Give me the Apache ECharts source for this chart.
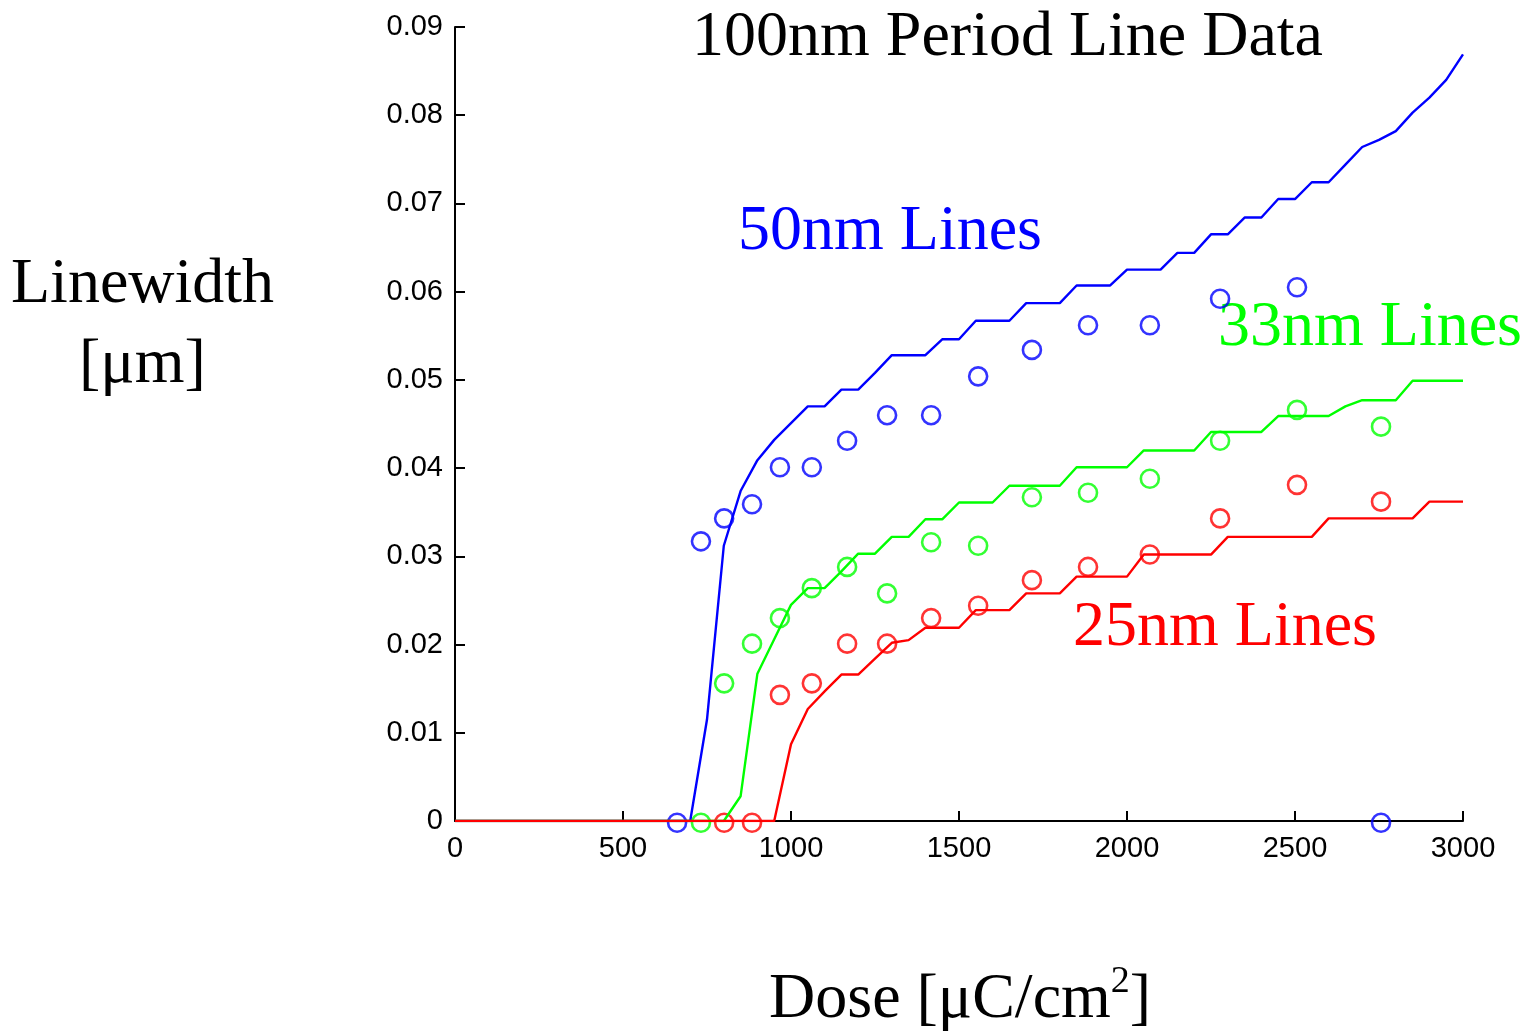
<!DOCTYPE html>
<html>
<head>
<meta charset="utf-8">
<script src="https://cdn.jsdelivr.net/npm/echarts@6/dist/echarts.min.js"></script>
<style>
  html, body { margin: 0; padding: 0; background: #ffffff; }
  #chart { width: 1540px; height: 1036px; }
</style>
</head>
<body>
<div id="chart"></div>
<script>
// Simulated linewidth curves, sampled every 50 µC/cm²
const simDose = [
  0, 50, 100, 150, 200, 250, 300, 350, 400, 450, 500, 550, 600, 650, 700,
  750, 800, 850, 900, 950, 1000, 1050, 1100, 1150, 1200, 1250, 1300, 1350, 1400, 1450,
  1500, 1550, 1600, 1650, 1700, 1750, 1800, 1850, 1900, 1950, 2000, 2050, 2100, 2150,
  2200, 2250, 2300, 2350, 2400, 2450, 2500, 2550, 2600, 2650, 2700, 2750, 2800, 2850,
  2900, 2950, 3000
];
const sim50 = [
  0, 0, 0, 0, 0, 0, 0, 0, 0, 0, 0, 0, 0, 0, 0,
  0.0115, 0.0312, 0.0374, 0.0409, 0.0432, 0.0451, 0.0470, 0.0470, 0.0489, 0.0489,
  0.0508, 0.0528, 0.0528, 0.0528, 0.0546, 0.0546, 0.0567, 0.0567, 0.0567, 0.0587,
  0.0587, 0.0587, 0.0607, 0.0607, 0.0607, 0.0625, 0.0625, 0.0625, 0.0644, 0.0644,
  0.0665, 0.0665, 0.0684, 0.0684, 0.0705, 0.0705, 0.0724, 0.0724, 0.0744, 0.0764,
  0.0772, 0.0782, 0.0803, 0.0820, 0.0840, 0.0869
];
const sim33 = [
  0, 0, 0, 0, 0, 0, 0, 0, 0, 0, 0, 0, 0, 0, 0, 0, 0,
  0.0028, 0.0167, 0.0206, 0.0245, 0.0264, 0.0264, 0.0283, 0.0303, 0.0303,
  0.0322, 0.0322, 0.0342, 0.0342, 0.0361, 0.0361, 0.0361, 0.0380, 0.0380,
  0.0380, 0.0380, 0.0401, 0.0401, 0.0401, 0.0401, 0.0420, 0.0420, 0.0420,
  0.0420, 0.0441, 0.0441, 0.0441, 0.0441, 0.0459, 0.0459, 0.0459, 0.0459,
  0.0470, 0.0477, 0.0477, 0.0477, 0.0499, 0.0499, 0.0499, 0.0499
];
const sim25 = [
  0, 0, 0, 0, 0, 0, 0, 0, 0, 0, 0, 0, 0, 0, 0, 0, 0, 0, 0, 0,
  0.0087, 0.0127, 0.0147, 0.0166, 0.0166, 0.0184, 0.0202, 0.0205, 0.0219,
  0.0219, 0.0219, 0.0239, 0.0239, 0.0239, 0.0258, 0.0258, 0.0258, 0.0277,
  0.0277, 0.0277, 0.0277, 0.0302, 0.0302, 0.0302, 0.0302, 0.0302, 0.0322,
  0.0322, 0.0322, 0.0322, 0.0322, 0.0322, 0.0343, 0.0343, 0.0343, 0.0343,
  0.0343, 0.0343, 0.0362, 0.0362, 0.0362
];

// Measured linewidths (null = not measured at that dose)
const measDose = [661, 732, 801, 884, 967, 1062, 1167, 1286, 1417, 1557, 1717, 1884, 2068, 2277, 2506, 2756];
const meas50 = [-0.0002, 0.0317, 0.0343, 0.0359, 0.0401, 0.0401, 0.0431, 0.0460, 0.0460, 0.0504, 0.0534, 0.0562, 0.0562, 0.0592, 0.0605, -0.0002];
const meas33 = [null, -0.0002, 0.0156, 0.0201, 0.0230, 0.0264, 0.0288, 0.0258, 0.0316, 0.0312, 0.0367, 0.0372, 0.0388, 0.0431, 0.0466, 0.0447];
const meas25 = [null, null, -0.0002, -0.0002, 0.0143, 0.0156, 0.0201, 0.0201, 0.0230, 0.0244, 0.0273, 0.0288, 0.0302, 0.0343, 0.0381, 0.0362];

const xTicks = [0, 500, 1000, 1500, 2000, 2500, 3000];
const yTicks = [0, 0.01, 0.02, 0.03, 0.04, 0.05, 0.06, 0.07, 0.08, 0.09];

const seriesNames = ['50nm Lines', '33nm Lines', '25nm Lines'];
const seriesColors = ['#0000ff', '#00ff00', '#ff0000'];

function pairs(xs, ys) {
  const out = [];
  for (let i = 0; i < xs.length; i++) {
    if (ys[i] !== null) out.push([xs[i], ys[i]]);
  }
  return out;
}

const serif = 'Liberation Serif, Times New Roman, serif';
const sans = 'Liberation Sans, Arial, Helvetica, sans-serif';

const simSets = [sim50, sim33, sim25];
const measSets = [meas50, meas33, meas25];

const series = [];
simSets.forEach((s, i) => {
  series.push({
    name: seriesNames[i] + ' (model)',
    type: 'line',
    data: pairs(simDose, s),
    showSymbol: false,
    symbol: 'none',
    lineStyle: { color: seriesColors[i], width: 2.4 },
    z: 3 + i,
    silent: true
  });
});
measSets.forEach((s, i) => {
  series.push({
    name: seriesNames[i],
    type: 'scatter',
    data: pairs(measDose, s),
    symbol: 'circle',
    symbolSize: 18,
    clip: false,
    itemStyle: { color: 'rgba(0,0,0,0)', borderColor: seriesColors[i], borderWidth: 2.6 },
    z: 2
  });
});

const chart = echarts.init(document.getElementById('chart'), null, { renderer: 'canvas' });
chart.setOption({
  animation: false,
  backgroundColor: '#ffffff',
  grid: { left: 455, right: 77, top: 27, bottom: 215, containLabel: false },
  xAxis: {
    type: 'value',
    min: xTicks[0],
    max: xTicks[xTicks.length - 1],
    interval: xTicks[1] - xTicks[0],
    axisLine: { show: true, onZero: false, lineStyle: { color: '#000', width: 2 } },
    axisTick: { show: true, inside: true, length: 10, lineStyle: { color: '#000', width: 2 } },
    axisLabel: {
      color: '#000', fontFamily: sans, fontSize: 29, margin: 13,
      formatter: v => String(Math.round(v))
    },
    splitLine: { show: false }
  },
  yAxis: {
    type: 'value',
    min: yTicks[0],
    max: yTicks[yTicks.length - 1],
    interval: 0.01,
    axisLine: { show: true, onZero: false, lineStyle: { color: '#000', width: 2 } },
    axisTick: { show: true, inside: true, length: 10, lineStyle: { color: '#000', width: 2 } },
    axisLabel: {
      color: '#000', fontFamily: sans, fontSize: 29, margin: 12,
      formatter: v => (Math.abs(v) < 1e-9 ? '0' : v.toFixed(2))
    },
    splitLine: { show: false }
  },
  series: series,
  graphic: [
    {
      type: 'text', left: 692, top: 6, silent: true,
      style: { text: '100nm Period Line Data', font: '64px ' + serif, fill: '#000' }
    },
    {
      type: 'text', left: 11, top: 253, silent: true,
      style: { text: 'Linewidth', font: '64px ' + serif, fill: '#000' }
    },
    {
      type: 'text', left: 79, top: 333, silent: true,
      style: { text: '[μm]', font: '64px ' + serif, fill: '#000' }
    },
    {
      type: 'text', left: 738, top: 200, silent: true,
      style: { text: seriesNames[0], font: '64px ' + serif, fill: seriesColors[0] }
    },
    {
      type: 'text', left: 1218, top: 296, silent: true,
      style: { text: seriesNames[1], font: '64px ' + serif, fill: seriesColors[1] }
    },
    {
      type: 'text', left: 1073, top: 596, silent: true,
      style: { text: seriesNames[2], font: '64px ' + serif, fill: seriesColors[2] }
    },
    {
      type: 'text', left: 769, top: 960, silent: true,
      style: {
        text: '{m|Dose [μC/cm}{s|2}{m|]}',
        rich: {
          m: { fontFamily: serif, fontSize: 64, fill: '#000', lineHeight: 72, verticalAlign: 'bottom' },
          s: { fontFamily: serif, fontSize: 38, fill: '#000', lineHeight: 72, verticalAlign: 'top', padding: [3, 0, 0, 0] }
        }
      }
    }
  ]
});
</script>
</body>
</html>
